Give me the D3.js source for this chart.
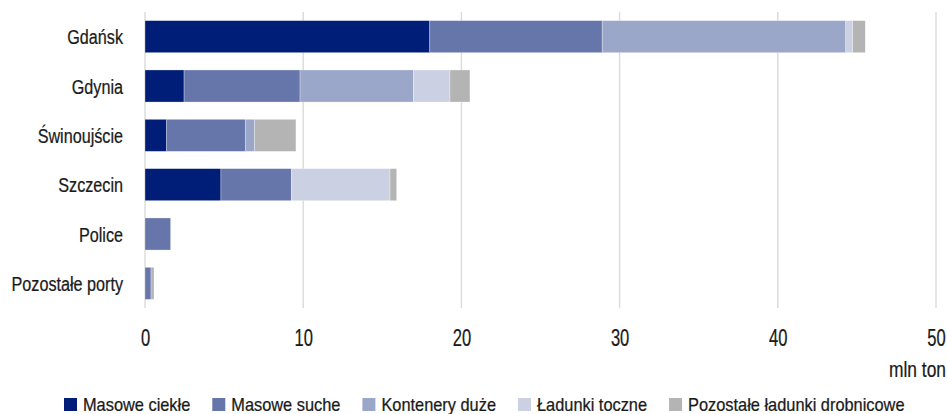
<!DOCTYPE html>
<html>
<head>
<meta charset="utf-8">
<script src="https://cdn.jsdelivr.net/npm/d3@7"></script>
<style>
  body { margin: 0; background: #fff; }
  svg text { font-family: "Liberation Sans", Arial, sans-serif; fill: #1a1a1a; stroke: #1a1a1a; stroke-width: 0.25px; }
</style>
</head>
<body>
<div id="chart"></div>
<script>
// ports (categories)
var ports = ["Gdańsk", "Gdynia", "Świnoujście", "Szczecin", "Police", "Pozostałe porty"];
// cargo groups (series)
var cargo = ["Masowe ciekłe", "Masowe suche", "Kontenery duże", "Ładunki toczne", "Pozostałe ładunki drobnicowe"];
// values in mln ton, one array per cargo group, in port order
var liquid    = [18.0, 2.47, 1.37, 4.80, 0,    0];
var dry       = [10.9, 7.33, 4.99, 4.45, 1.62, 0.38];
var container = [15.4, 7.16, 0.57, 0,    0,    0];
var rolling   = [0.43, 2.32, 0,    6.24, 0,    0];
var other     = [0.80, 1.26, 2.61, 0.42, 0,    0.19];
var xTicks = [0, 10, 20, 30, 40, 50];
var unitLabel = "mln ton";

var colors = ["#001e78", "#6676ab", "#9aa7c9", "#cbd1e3", "#b4b4b4"];

var width = 947, height = 414;
var margin = {top: 12, left: 145, right: 11, bottom: 106};
var gW = width - margin.left - margin.right;
var gH = height - margin.top - margin.bottom;

var svg = d3.select('#chart').append('svg')
  .attr('width', width)
  .attr('height', height);

var g = svg.append('g')
  .attr('transform', 'translate(' + margin.left + ',' + margin.top + ')');

var table = ports.map(function (p, i) {
  return {port: p, 0: liquid[i], 1: dry[i], 2: container[i], 3: rolling[i], 4: other[i]};
});
var stacked = d3.stack().keys([0, 1, 2, 3, 4])(table);

var xScale = d3.scaleLinear().domain([0, 50]).range([0, gW]);
var yScale = d3.scaleBand().domain(ports).range([0, gH]).paddingInner(0.35).paddingOuter(0.175);

// condensed look: narrow the text horizontally
function squeeze(sel, sx, x, y) {
  sel.attr('x', x / sx).attr('y', y).attr('transform', 'scale(' + sx + ',1)');
}

// gridlines
g.selectAll('.grid')
  .data(xTicks)
  .enter().append('line')
  .attr('class', 'grid')
  .attr('x1', function (d) { return xScale(d); })
  .attr('x2', function (d) { return xScale(d); })
  .attr('y1', 0)
  .attr('y2', gH)
  .attr('stroke', '#dcdcdc')
  .attr('stroke-width', 1.5);

// bars
var layers = g.selectAll('.layer')
  .data(stacked)
  .enter().append('g')
  .attr('class', 'layer')
  .attr('fill', function (d, i) { return colors[i]; });

layers.selectAll('rect')
  .data(function (d) { return d.filter(function (s) { return s[1] - s[0] > 0; }); })
  .enter().append('rect')
  .attr('x', function (d) { return xScale(d[0]); })
  .attr('y', function (d) { return yScale(d.data.port); })
  .attr('width', function (d) { return xScale(d[1]) - xScale(d[0]); })
  .attr('height', yScale.bandwidth())
  .attr('stroke', 'rgba(255,255,255,0.5)')
  .attr('stroke-width', 0.6);

// y labels
var yAxis = d3.axisLeft(yScale).tickSize(0).tickPadding(22);
g.append('g')
  .attr('class', 'y axis')
  .call(yAxis)
  .call(function (a) { a.select('.domain').remove(); })
  .selectAll('text')
  .attr('font-size', 21)
  .attr('dy', null)
  .attr('fill', '#1a1a1a')
  .call(squeeze, 0.77, -22, 7.5);

// x labels
var xAxis = d3.axisBottom(xScale).tickValues(xTicks).tickSize(0);
g.append('g')
  .attr('class', 'x axis')
  .attr('transform', 'translate(0,' + gH + ')')
  .call(xAxis)
  .call(function (a) { a.select('.domain').remove(); })
  .selectAll('text')
  .attr('font-size', 23)
  .attr('dy', null)
  .attr('fill', '#1a1a1a')
  .call(squeeze, 0.72, 0, 38.5);

g.append('text')
  .attr('text-anchor', 'end')
  .attr('font-size', 22)
  .text(unitLabel)
  .call(squeeze, 0.79, gW + 10, gH + 69);

// legend
var legend = svg.append('g').attr('transform', 'translate(64,398)');
var lx = 0;
cargo.forEach(function (c, i) {
  var item = legend.append('g').attr('transform', 'translate(' + lx + ',0)');
  item.append('rect')
    .attr('width', 13)
    .attr('height', 13)
    .attr('fill', colors[i]);
  var t = item.append('text')
    .attr('font-size', 18)
    .text(c)
    .call(squeeze, 0.91, 19, 12.7);
  lx += 19 + t.node().getComputedTextLength() * 0.91 + 22;
});
</script>
</body>
</html>
